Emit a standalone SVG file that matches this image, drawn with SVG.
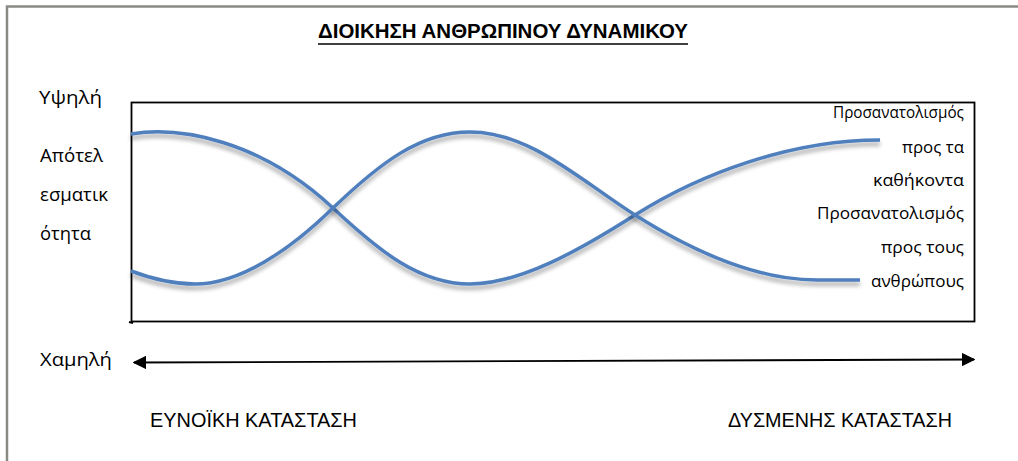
<svg xmlns="http://www.w3.org/2000/svg" width="1018" height="461" viewBox="0 0 1018 461">
<defs>
<style>
.frame{fill:none;stroke:#8a8a82;stroke-width:2.5}
.axis{fill:none;stroke:#000;stroke-width:1.8}
.curve{fill:none;stroke:#4f7fbd;stroke-width:3.5;stroke-linecap:butt;filter:url(#sh)}
.lbl{font-family:"Open Sans","Liberation Sans",sans-serif;font-size:18.5px;fill:#000}
.rl{font-family:"Open Sans","Liberation Sans",sans-serif;font-size:16px;fill:#000;text-anchor:end}
.cap{font-family:"Liberation Sans",sans-serif;font-size:21px;fill:#000}
</style>
<filter id="sh" x="-5%" y="-20%" width="110%" height="150%">
<feDropShadow dx="0" dy="4" stdDeviation="2.2" flood-color="#000" flood-opacity="0.35"/>
</filter>
<marker id="ah" viewBox="0 0 10 10" refX="9" refY="5" markerWidth="7.5" markerHeight="7.5" orient="auto-start-reverse" markerUnits="strokeWidth">
<path d="M0,0 L10,5 L0,10 Z" fill="#000"/>
</marker>
</defs>
<rect width="1018" height="461" fill="#fff"/>
<path class="frame" d="M7,461 L7,6.5 L1018,6.5"/>
<g id="title">
<text x="318" y="38" font-family="Liberation Sans,sans-serif" font-weight="bold" font-size="21" textLength="370" lengthAdjust="spacingAndGlyphs">ΔΙΟΙΚΗΣΗ ΑΝΘΡΩΠΙΝΟΥ ΔΥΝΑΜΙΚΟΥ</text>
<line x1="318" y1="44" x2="688" y2="44" stroke="#000" stroke-width="1.6"/>
</g>
<g id="chart-box">
<rect x="131.5" y="102.5" width="843" height="219" class="axis"/>
<path d="M129,322 L133,323" stroke="#000" stroke-width="2"/>
</g>
<g id="connectors">
<path id="curve-tasks" class="curve" d="M131,134 C180,126 260,140 333,208 C380,252 420,284 470,284 C520,284 580,250 635,215 C700,174 790,140 880,140"/>
<path id="curve-people" class="curve" d="M131,271 C155,280 175,284 195,284 C240,284 290,250 333,208 C380,163 420,132 470,132 C530,132 580,180 635,215 C700,256 760,280 817,280 L860,280"/>
<line id="axis-arrow" class="axis" x1="134" y1="362.5" x2="974" y2="359.5" marker-start="url(#ah)" marker-end="url(#ah)"/>
</g>
<g id="y-labels">
<text class="lbl" x="39" y="104" textLength="63" lengthAdjust="spacingAndGlyphs">Υψηλή</text>
<text class="lbl" x="40" y="162" textLength="63" lengthAdjust="spacingAndGlyphs">Απότελ</text>
<text class="lbl" x="40" y="201" textLength="68" lengthAdjust="spacingAndGlyphs">εσματικ</text>
<text class="lbl" x="40" y="240" textLength="51" lengthAdjust="spacingAndGlyphs">ότητα</text>
<text class="lbl" x="40" y="366" textLength="72" lengthAdjust="spacingAndGlyphs">Χαμηλή</text>
</g>
<g id="legend-tasks">
<text class="rl" x="964" y="118" font-size="15" textLength="131" lengthAdjust="spacingAndGlyphs">Προσανατολισμός</text>
<text class="rl" x="964" y="153" textLength="62" lengthAdjust="spacingAndGlyphs">προς τα</text>
<text class="rl" x="964" y="186" textLength="91" lengthAdjust="spacingAndGlyphs">καθήκοντα</text>
</g>
<g id="legend-people">
<text class="rl" x="964" y="219" font-size="17" textLength="147" lengthAdjust="spacingAndGlyphs">Προσανατολισμός</text>
<text class="rl" x="964" y="253" textLength="83" lengthAdjust="spacingAndGlyphs">προς τους</text>
<text class="rl" x="964" y="287" textLength="93" lengthAdjust="spacingAndGlyphs">ανθρώπους</text>
</g>
<g id="x-labels">
<text class="cap" x="150" y="427" textLength="207" lengthAdjust="spacingAndGlyphs">ΕΥΝΟΪΚΗ ΚΑΤΑΣΤΑΣΗ</text>
<text class="cap" x="728" y="427" textLength="224" lengthAdjust="spacingAndGlyphs">ΔΥΣΜΕΝΗΣ ΚΑΤΑΣΤΑΣΗ</text>
</g>
</svg>
